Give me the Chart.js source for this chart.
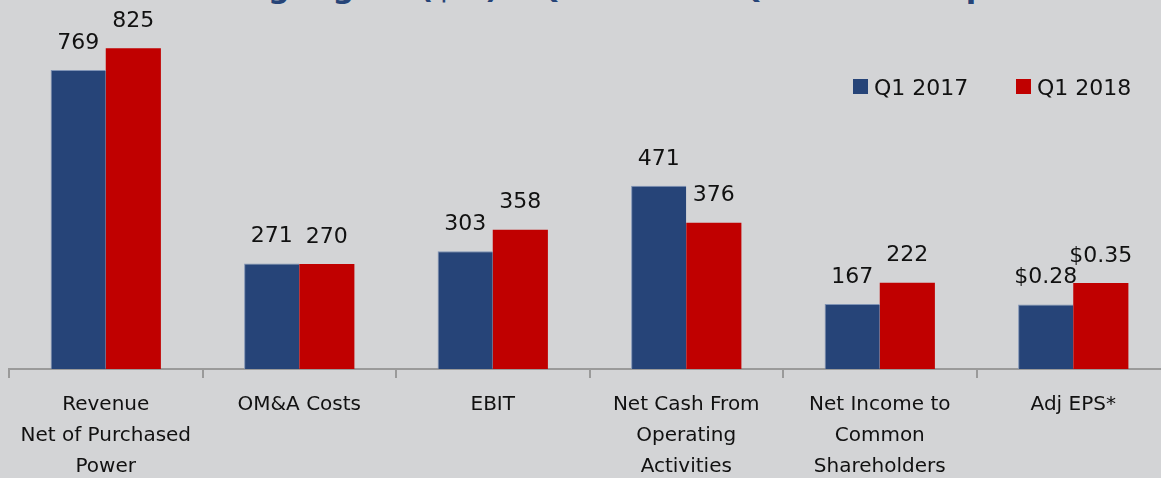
<!DOCTYPE html>
<html>
<head>
<meta charset="utf-8">
<script src="https://cdn.jsdelivr.net/npm/chart.js@4.4.1/dist/chart.umd.min.js"></script>
<style>
    html, body {
        margin: 0;
        padding: 0;
        width: 1161px;
        height: 478px;
        overflow: hidden;
        background: #d3d4d6;
    }
    #titulo {
        position: absolute;
        left: 0;
        top: -30px;
        width: 1161px;
        text-align: center;
        font-family: "DejaVu Sans", sans-serif;
        font-weight: bold;
        font-size: 30.5px;
        color: #264478;
        white-space: nowrap;
    }
    #contenedor {
        position: absolute;
        left: 0;
        top: 0;
        width: 1174px;
        height: 493px;
    }
    #leyenda {
        position: absolute;
        top: 76px;
        left: 853px;
        font-family: "DejaVu Sans", sans-serif;
        font-size: 22px;
        color: #111;
        white-space: nowrap;
    }
    .item {
        position: absolute;
        top: 0;
        line-height: 24px;
    }
    .item span {
        display: inline-block;
        width: 15px;
        height: 15px;
        margin-right: 6px;
        vertical-align: 1px;
    }
</style>
</head>
<body>
<div id="titulo">Financial Highlights ($M) – Q1 2018 vs Q1 2017 Comparison</div>
<div id="contenedor"><canvas id="grafica"></canvas></div>
<div id="leyenda"></div>
<script>
const categorias = [
    ["Revenue", "Net of Purchased", "Power"],
    ["OM&A Costs"],
    ["EBIT"],
    ["Net Cash From", "Operating", "Activities"],
    ["Net Income to", "Common", "Shareholders"],
    ["Adj EPS*"],
];
const series = ["Q1 2017", "Q1 2018"];
const colores = ["#264478", "#c00000"];

// valores mostrados en las etiquetas
const etiquetas2017 = ["769", "271", "303", "471", "167", "$0.28"];
const etiquetas2018 = ["825", "270", "358", "376", "222", "$0.35"];

// altura de las barras tal como aparecen (las de EPS van a la altura de Net Income)
const barras2017 = [769, 271, 303, 471, 167, 166];
const barras2018 = [825, 270, 358, 376, 222, 221];

const etiquetas = [etiquetas2017, etiquetas2018];

// leyenda en html
const leyenda = document.getElementById("leyenda");
series.forEach((s, i) => {
    const d = document.createElement("div");
    d.className = "item";
    d.style.left = i * 163 + "px";
    d.innerHTML = `<span style="background:${colores[i]}"></span>${s}`;
    leyenda.appendChild(d);
});

const pluginEtiquetas = {
    id: "etiquetas",
    afterDatasetsDraw(chart) {
        const ctx = chart.ctx;
        ctx.save();
        ctx.font = "22px 'DejaVu Sans', sans-serif";
        ctx.fillStyle = "#111";
        ctx.textAlign = "center";
        ctx.textBaseline = "middle";
        chart.data.datasets.forEach((ds, i) => {
            chart.getDatasetMeta(i).data.forEach((bar, j) => {
                ctx.fillText(etiquetas[i][j], bar.x, bar.y - 27);
            });
        });
        ctx.restore();
    },
};

new Chart(document.getElementById("grafica"), {
    type: "bar",
    data: {
        labels: categorias,
        datasets: [
            {
                label: series[0],
                data: barras2017,
                backgroundColor: colores[0],
                borderColor: "#7f93b5",
                borderWidth: { top: 1, left: 1, right: 0, bottom: 0 },
            },
            {
                label: series[1],
                data: barras2018,
                backgroundColor: colores[1],
                borderWidth: 0,
            },
        ],
    },
    options: {
        responsive: true,
        maintainAspectRatio: false,
        animation: false,
        categoryPercentage: 0.57,
        barPercentage: 1,
        layout: {
            padding: { left: 9, right: 4, top: 19, bottom: 0 },
        },
        plugins: {
            legend: { display: false },
            tooltip: { enabled: false },
        },
        scales: {
            y: {
                display: false,
                min: 0,
                max: 900,
            },
            x: {
                border: { color: "#9a9a9a", width: 2 },
                grid: {
                    offset: true,
                    drawOnChartArea: false,
                    color: "#9a9a9a",
                    lineWidth: 2,
                    tickLength: 9,
                },
                ticks: {
                    color: "#111",
                    padding: 11,
                    maxRotation: 0,
                    autoSkip: false,
                    font: { family: "'DejaVu Sans', sans-serif", size: 20, lineHeight: 1.55 },
                },
            },
        },
    },
    plugins: [pluginEtiquetas],
});
</script>
</body>
</html>
